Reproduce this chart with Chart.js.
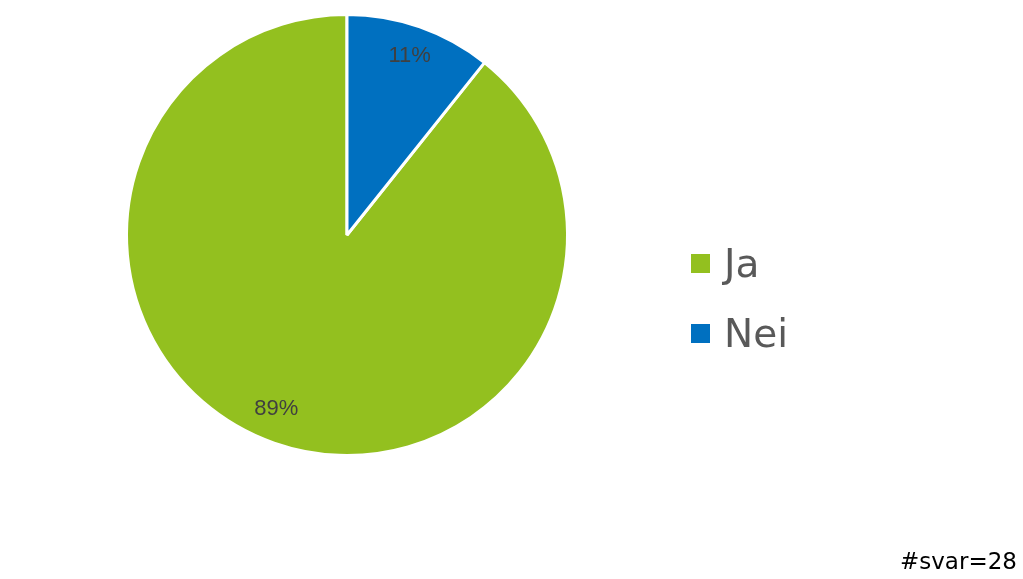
<!DOCTYPE html>
<html>
<head>
<meta charset="utf-8">
<script src="https://cdn.jsdelivr.net/npm/chart.js@4"></script>
<style>
  body { margin: 0; background: #fff; }
  #wrap { position: relative; width: 1023px; height: 579px; }
  #note { position: absolute; left: 900px; top: 548px; font: 23px "DejaVu Sans", sans-serif; color: #000; }
</style>
</head>
<body>
<div id="wrap">
  <canvas id="mychart1" width="1023" height="579"></canvas>
  <div id="note"></div>
</div>
<script>
const labels = ['Ja', 'Nei'];
const counts = [25, 3];
const colors = ['#93C01F', '#0070C0'];
const total = 28;

document.getElementById('note').textContent = '#svar=' + total;

// Nei starts at 12 o'clock, so rotate Ja by the Nei share
const startAngle = counts[1] / total * 360;

const labelPlugin = {
    id: 'labelPlugin',
    afterDraw(chart) {
        const ctx = chart.ctx;
        const meta = chart.getDatasetMeta(0);
        ctx.save();
        ctx.fillStyle = '#404040';
        ctx.font = '22px "Liberation Sans", sans-serif';
        ctx.textAlign = 'center';
        ctx.textBaseline = 'middle';
        meta.data.forEach((arc, i) => {
            const mid = (arc.startAngle + arc.endAngle) / 2;
            const r = arc.outerRadius * 0.86;
            const x = arc.x + Math.cos(mid) * r;
            const y = arc.y + Math.sin(mid) * r;
            const pct = Math.round(counts[i] / total * 100);
            ctx.fillText(pct + '%', x - (i == 0 ? 8 : 0), y - (i == 0 ? 5 : 0));
        });

        // legend
        ctx.textAlign = 'left';
        ctx.textBaseline = 'alphabetic';
        ctx.font = '39px "DejaVu Sans", sans-serif';
        labels.forEach((e, i) => {
            const y = 277 + i * 70;
            ctx.fillStyle = colors[i];
            ctx.fillRect(691, y - 23, 19, 19);
            ctx.fillStyle = '#595959';
            ctx.fillText(e, 724, y);
        });
        ctx.restore();
    }
};

new Chart(mychart1, {
    type: 'pie',
    data: {
        labels: labels,
        datasets: [
            {
                data: counts,
                backgroundColor: colors,
                borderColor: '#ffffff',
                borderWidth: 3,
            },
        ],
    },
    options: {
        responsive: false,
        animation: false,
        rotation: startAngle,
        layout: {
            padding: { left: 125, top: 13, right: 454, bottom: 122 },
        },
        plugins: {
            legend: { display: false },
            tooltip: { enabled: false },
        },
    },
    plugins: [labelPlugin],
});
</script>
</body>
</html>
